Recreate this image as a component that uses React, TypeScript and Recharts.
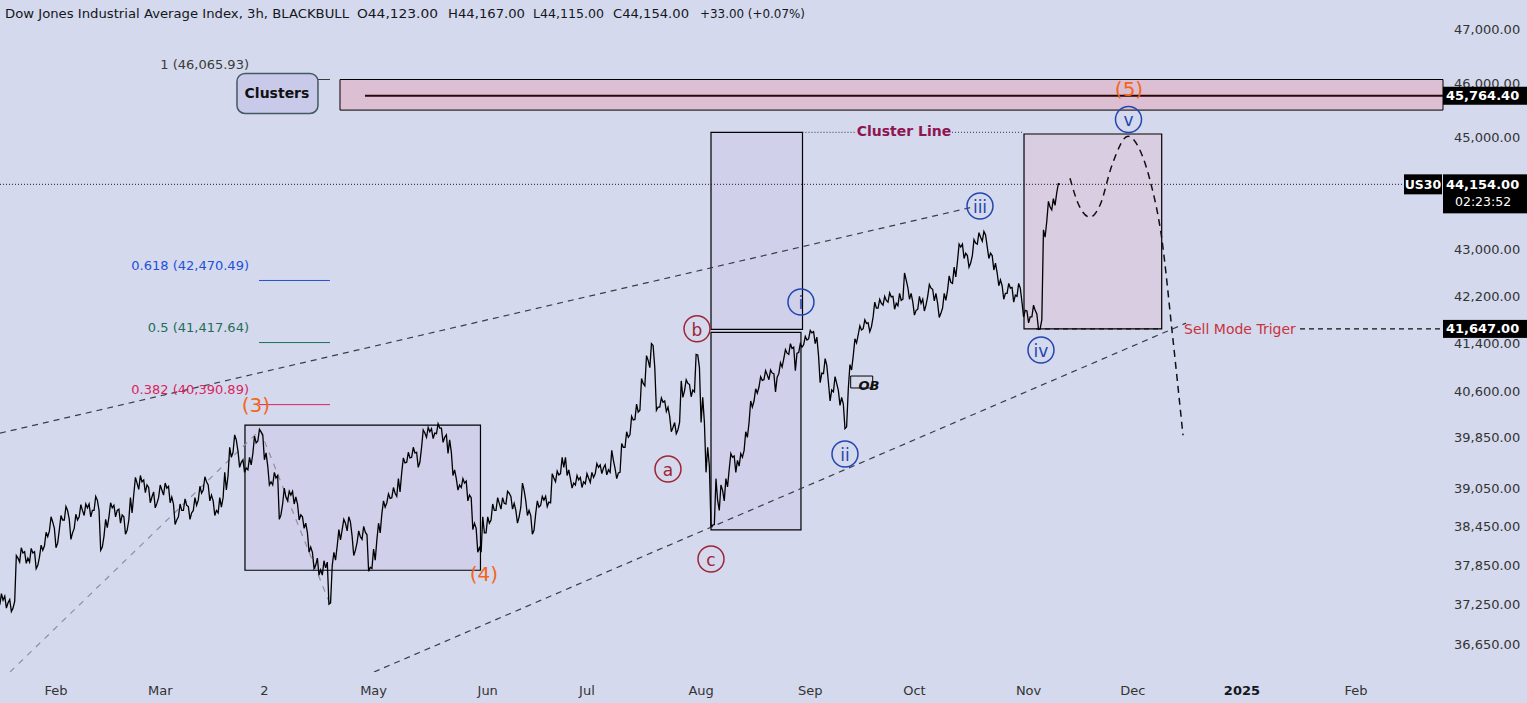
import React from 'react';
import { ComposedChart, Line, XAxis, YAxis, ReferenceArea, ReferenceDot } from 'recharts';

const W = 1527;
const H = 703;
const FONT = '"DejaVu Sans", "Noto Sans", sans-serif';
const BG = '#d5d9ed';

// ---- data -------------------------------------------------------------
// trading-day index of the first session
const START_T = 12;
// one close per trading day
const closes = [
  37320, 37280, 37200, 37960, 38040, 37960, 38040, 37850, 38080, 38290,
  38520, 38190, 38550, 38700, 38350, 38550, 38700, 38740, 38700, 38860,
  38130, 38430, 38740, 38700, 38630, 38390, 38660, 39130, 39150, 39100,
  38910, 38810, 39020, 39050, 38910, 38550, 38700, 38780, 38660, 38780,
  38970, 39150, 38940, 38700, 38750, 39020, 39540, 39820, 39460, 39370,
  39420, 39770, 39950, 39610, 39150, 39210, 38630, 38910, 38940, 38910,
  38630, 38500, 38130, 37850, 37780, 37810, 37280, 37930, 38240, 38500,
  38520, 38080, 38290, 38360, 37820, 37930, 38350, 38750, 38890, 38970,
  38990, 39450, 39530, 39610, 39460, 39930, 39950, 39930, 40010, 39860,
  39820, 39340, 39100, 39130, 38940, 38500, 38120, 38350, 38500, 38700,
  38810, 38810, 38970, 38810, 38600, 39020, 38700, 38390, 38750, 38860,
  38830, 39210, 39260, 39380, 39340, 39130, 39180, 39150, 39210, 39220,
  39380, 39370, 39340, 39490, 39290, 39700, 39860, 40140, 40270, 40740,
  41120, 41370, 40350, 40430, 40350, 40020, 39980, 40510, 40740, 40630,
  41210, 40510, 39700, 38470, 38860, 39020, 39070, 39540, 39490, 39540,
  39860, 40350, 40580, 40790, 40880, 40910, 40840, 41010, 41240, 41320,
  41240, 41340, 41460, 41580, 41510, 40910, 41040, 40630, 40740, 40510,
  40030, 40960, 41410, 41630, 41740, 41680, 42000, 42080, 42130, 42190,
  42080, 42130, 42480, 42250, 41960, 42080, 42050, 42340, 42250, 41910,
  42130, 42440, 42530, 43050, 42940, 42770, 43120, 43220, 43260, 42940,
  42770, 42480, 42250, 42340, 42220, 42340, 41960, 41850, 41960, 41650,
  43220, 43750, 43780, 44154,
];
// daily lows and highs
const lows = [
  37250, 37200, 37150, 37300, 37900, 37880, 37900, 37800, 37980, 38150,
  38380, 38120, 38400, 38550, 38250, 38420, 38600, 38620, 38600, 38700,
  38080, 38300, 38600, 38600, 38500, 38330, 38550, 38950, 39030, 38980,
  38820, 38740, 38900, 38940, 38820, 38480, 38600, 38700, 38560, 38700,
  38860, 39020, 38850, 38620, 38660, 38900, 39250, 39620, 39380, 39300,
  39340, 39600, 39800, 39500, 39100, 39100, 38560, 38800, 38850, 38800,
  38550, 38420, 38050, 37800, 37700, 37700, 37260, 37850, 38150, 38400,
  38380, 38000, 38200, 38250, 37760, 37800, 38250, 38650, 38820, 38900,
  38920, 39300, 39460, 39540, 39380, 39700, 39860, 39840, 39920, 39780,
  39600, 39250, 39020, 39060, 38850, 38400, 38050, 38050, 38350, 38550,
  38700, 38720, 38800, 38720, 38500, 38750, 38620, 38330, 38650, 38780,
  38760, 38820, 39150, 39280, 39250, 39050, 39100, 39060, 39120, 39140,
  39280, 39280, 39260, 39300, 39200, 39300, 39700, 39900, 40150, 40300,
  40700, 41000, 40300, 40350, 40280, 39950, 39920, 40100, 40620, 40520,
  40600, 40100, 39300, 38450, 38480, 38700, 38850, 39350, 39300, 39400,
  39650, 40100, 40450, 40680, 40800, 40800, 40600, 40900, 41150, 41220,
  40950, 41250, 41380, 41480, 41400, 40750, 40900, 40450, 40600, 40380,
  40000, 40650, 41200, 41550, 41650, 41600, 41850, 42000, 42050, 42100,
  41980, 42040, 42150, 42150, 41880, 41980, 41950, 42200, 42120, 41840,
  42000, 42300, 42420, 42800, 42850, 42700, 42900, 43100, 43150, 42850,
  42650, 42380, 42150, 42250, 42100, 42200, 41850, 41750, 41850, 41640,
  41800, 43500, 43700, 44000,
];
const highs = [
  37420, 37380, 37330, 38000, 38120, 38060, 38110, 38060, 38160, 38360,
  38600, 38420, 38620, 38760, 38560, 38640, 38790, 38800, 38800, 38920,
  38700, 38560, 38820, 38780, 38720, 38600, 38900, 39220, 39250, 39180,
  39060, 38990, 39100, 39130, 39080, 38800, 38800, 38880, 38760, 38900,
  39080, 39230, 39100, 38850, 38900, 39300, 39700, 39900, 39640, 39500,
  39540, 39880, 39990, 39900, 39400, 39300, 39250, 39050, 39000, 39000,
  38800, 38600, 38350, 38050, 37960, 37920, 37900, 38050, 38400, 38560,
  38600, 38300, 38380, 38450, 38320, 38100, 38500, 38850, 38960, 39060,
  39200, 39530, 39620, 39700, 39620, 39980, 40020, 40000, 40080, 40010,
  39900, 39620, 39200, 39200, 39160, 38900, 38420, 38600, 38600, 38800,
  38900, 38900, 39000, 38920, 38700, 39130, 38850, 38620, 38850, 38920,
  38920, 39280, 39320, 39540, 39540, 39200, 39250, 39220, 39280, 39300,
  39440, 39420, 39420, 39650, 39360, 39760, 39950, 40200, 40400, 40820,
  41200, 41400, 41000, 40500, 40450, 40200, 40100, 40780, 40800, 40720,
  41220, 41000, 40100, 39400, 39200, 39100, 39200, 39600, 39560, 39600,
  39950, 40450, 40650, 40850, 40950, 40960, 40900, 41080, 41300, 41400,
  41340, 41400, 41520, 41620, 41600, 41200, 41150, 40750, 40850, 40620,
  40400, 41050, 41480, 41700, 41800, 41750, 42100, 42150, 42200, 42260,
  42200, 42250, 42600, 42350, 42100, 42200, 42150, 42400, 42320, 42080,
  42250, 42550, 42700, 43100, 43100, 42900, 43180, 43300, 43320, 43050,
  42900, 42600, 42380, 42420, 42350, 42420, 42100, 41950, 42050, 41900,
  43350, 43850, 43900, 44167,
];

// projected path (t, price)
const projT = [227.35, 228.96, 231.38, 233.39, 235.81, 239.04, 241.45, 243.47, 245.89, 247.9, 250.12];
const projP = [44263, 43818, 43572, 43783, 44497, 45022, 44767, 44228, 43168, 41626, 39896];

const monthTicks = [23, 44, 65, 87, 110, 130, 153, 175, 196, 219, 240, 262, 285];
const monthLabels = ['Feb', 'Mar', '2', 'May', 'Jun', 'Jul', 'Aug', 'Sep', 'Oct', 'Nov', 'Dec', '2025', 'Feb'];

const priceTicks = [36650, 37250, 37850, 38450, 39050, 39850, 40600, 41400, 42200, 43000, 45000, 46000, 47000];
const lastPrice = 44154;
const clusterPrice = 45764.4;
const triggerPrice = 41647;
const fibLevels = [
  { ratio: '1', price: 46065.93, color: '#3a3a3a' },
  { ratio: '0.618', price: 42470.49, color: '#2450d8' },
  { ratio: '0.5', price: 41417.64, color: '#1c6f58' },
  { ratio: '0.382', price: 40390.89, color: '#d8245e' },
];
const fibTextPrice = [46337, 42737, 41679, 40647];

const T_MIN = 11.71;
const T_MAX = 302.52;
const P_MIN = 36252;
const P_MAX = 47571;

// each session drawn as its low/high swing in the order the day moved, then its close
const priceData: { t: number; p: number }[] = [];
closes.forEach((c, i) => {
  const up = i === 0 || c >= closes[i - 1];
  const t = START_T + i;
  priceData.push({ t: t - 0.33, p: up ? lows[i] : highs[i] });
  priceData.push({ t: t, p: up ? highs[i] : lows[i] });
  priceData.push({ t: t + 0.33, p: c });
});
const projData = projT.map((t, i) => ({ t, p: projP[i] }));
const seg = (t1: number, p1: number, t2: number, p2: number) => [{ t: t1, p: p1 }, { t: t2, p: p2 }];

const upperChannel = seg(T_MIN, 39928, 207.6, 43748);
const lowerChannel = seg(87.08, P_MIN, 250.72, 41744);
const fibTrend = [{ t: 13.73, p: P_MIN }, { t: 64.11, p: 39977 }, { t: 78.21, p: 37262 }];
const lastLine = seg(T_MIN, lastPrice, 294.66, lastPrice);
const clusterLineA = seg(173.44, 45093, 184.02, 45093);
const clusterLineB = seg(203.57, 45093, 218.08, 45093);
const trigA = seg(220.5, triggerPrice, 245.83, triggerPrice);
const trigB = seg(273.7, triggerPrice, T_MAX, triggerPrice);

const waves = [
  { t: 146.33, p: 39353, text: 'a', color: '#9e2536' },
  { t: 152.18, p: 41650, text: 'b', color: '#9e2536' },
  { t: 155.0, p: 37947, text: 'c', color: '#9e2536' },
  { t: 173.13, p: 42103, text: 'i', color: '#2346b0' },
  { t: 182.0, p: 39593, text: 'ii', color: '#2346b0' },
  { t: 209.21, p: 43769, text: 'iii', color: '#2346b0' },
  { t: 221.5, p: 41293, text: 'iv', color: '#2346b0' },
  { t: 239.14, p: 45327, text: 'v', color: '#2346b0' },
];
const degreeLabels = [
  { t: 63.3, p: 40383, text: '(3)' },
  { t: 109.25, p: 37718, text: '(4)' },
  { t: 239.24, p: 45890, text: '(5)' },
];

// ---- ticks ------------------------------------------------------------
const fmt = (v: number) => v.toLocaleString('en-US', { minimumFractionDigits: 2, maximumFractionDigits: 2 });

const YTick = (props: any) => {
  const { x, y, payload } = props;
  const v = payload.value;
  const ax = x - 11;
  if (v === clusterPrice || v === triggerPrice) {
    return (
      <g>
        <rect x={ax} y={y - 9} width={84} height={18} fill="#000" />
        <text x={ax + 3} y={y} dominantBaseline="central" fill="#fff" fontSize={13} fontWeight="bold" fontFamily={FONT}>
          {fmt(v)}
        </text>
      </g>
    );
  }
  if (v === lastPrice) {
    return (
      <g>
        <rect x={ax - 39} y={y - 10} width={38} height={20} fill="#000" />
        <text x={ax - 20} y={y} textAnchor="middle" dominantBaseline="central" fill="#fff" fontSize={12.5} fontWeight="bold" fontFamily={FONT}>US30</text>
        <rect x={ax} y={y - 10} width={84} height={39} fill="#000" />
        <text x={ax + 3} y={y} dominantBaseline="central" fill="#fff" fontSize={13} fontWeight="bold" fontFamily={FONT}>{fmt(v)}</text>
        <text x={ax + 12} y={y + 17} dominantBaseline="central" fill="#fff" fontSize={12.5} fontFamily={FONT}>02:23:52</text>
      </g>
    );
  }
  return (
    <text x={x} y={y} dominantBaseline="central" fill="#333" fontSize={13} fontFamily={FONT}>
      {fmt(v)}
    </text>
  );
};

const XTick = (props: any) => {
  const { x, y, payload } = props;
  const idx = monthTicks.indexOf(payload.value);
  const label = monthLabels[idx];
  const bold = label === '2025';
  return (
    <text x={x} y={y + 18} textAnchor="middle" dominantBaseline="central" fill={bold ? '#131722' : '#333'} fontSize={13} fontWeight={bold ? 'bold' : 'normal'} fontFamily={FONT}>
      {label}
    </text>
  );
};

const TextShape = (text: string, color: string, size: number, anchor: string, weight = 'normal', style = 'normal') => (p: any) => (
  <text x={p.cx} y={p.cy} textAnchor={anchor} dominantBaseline="central" fill={color} fontSize={size} fontWeight={weight} fontStyle={style} fontFamily={FONT}>
    {text}
  </text>
);

const CircleShape = (text: string, color: string) => (p: any) => (
  <g>
    <circle cx={p.cx} cy={p.cy} r={13} fill="none" stroke={color} strokeWidth={1.5} />
    <text x={p.cx} y={p.cy + 1} textAnchor="middle" dominantBaseline="central" fill={color} fontSize={17} fontFamily={FONT}>
      {text}
    </text>
  </g>
);

const ClustersShape = (p: any) => (
  <g>
    <rect x={p.cx - 40} y={p.cy - 20} width={81} height={40} rx={8} fill="#c9caea" stroke="#425a62" strokeWidth={1.5} />
    <text x={p.cx} y={p.cy} textAnchor="middle" dominantBaseline="central" fill="#111" fontSize={14} fontWeight="bold" fontFamily={FONT}>Clusters</text>
  </g>
);

const headerParts = [
  { text: 'Dow Jones Industrial Average Index, 3h, BLACKBULL', x: 5, w: 344 },
  { text: 'O44,123.00', x: 357, w: 81 },
  { text: 'H44,167.00', x: 448, w: 77 },
  { text: 'L44,115.00', x: 533, w: 71 },
  { text: 'C44,154.00', x: 613, w: 76 },
  { text: '+33.00 (+0.07%)', x: 700, w: 105 },
];

export default function App() {
  const lineProps = { dot: false, activeDot: false, isAnimationActive: false, dataKey: 'p', type: 'linear' as const };
  return (
    <div style={{ position: 'absolute', left: 0, top: 0, width: W, height: H, background: BG, overflow: 'hidden' }}>
      <ComposedChart width={W} height={H} margin={{ top: 0, right: 0, bottom: 0, left: 0 }}>
        <XAxis
          dataKey="t"
          type="number"
          domain={[T_MIN, T_MAX]}
          allowDataOverflow
          ticks={monthTicks}
          interval={0}
          height={31}
          axisLine={false}
          tickLine={false}
          tickSize={0}
          tickMargin={0}
          tick={<XTick />}
        />
        <YAxis
          orientation="right"
          type="number"
          scale="log"
          domain={[P_MIN, P_MAX]}
          allowDataOverflow
          ticks={[...priceTicks, lastPrice, clusterPrice, triggerPrice]}
          interval={0}
          width={84}
          axisLine={false}
          tickLine={false}
          tickSize={0}
          tickMargin={11}
          tick={<YTick />}
        />

        {/* boxes */}
        <ReferenceArea x1={80.23} x2={T_MAX} y1={45500} y2={46065.93} fill="#dcbfd2" fillOpacity={1} stroke="#000" strokeWidth={1} ifOverflow="visible" />
        <ReferenceArea x1={61.08} x2={108.54} y1={37775} y2={40058} fill="rgb(200,190,232)" fillOpacity={0.3} stroke="#000" strokeWidth={1.2} ifOverflow="visible" />
        <ReferenceArea x1={155.0} x2={173.44} y1={41640} y2={45093} fill="rgb(200,190,232)" fillOpacity={0.3} stroke="#000" strokeWidth={1.2} ifOverflow="visible" />
        <ReferenceArea x1={155.0} x2={173.13} y1={38395} y2={41590} fill="rgb(200,190,232)" fillOpacity={0.3} stroke="#000" strokeWidth={1.2} ifOverflow="visible" />
        <ReferenceArea x1={218.08} x2={245.83} y1={triggerPrice} y2={45062} fill="rgb(222,190,212)" fillOpacity={0.45} stroke="#000" strokeWidth={1.2} ifOverflow="visible" />
        <ReferenceArea x1={183.15} x2={187.59} y1={40664} y2={40861} fill="none" stroke="#000" strokeWidth={1} ifOverflow="visible" />

        {/* level lines */}
        <Line {...lineProps} data={seg(85.27, clusterPrice, T_MAX, clusterPrice)} stroke="#2a0608" strokeWidth={2} />
        {fibLevels.map((f, i) => (
          <Line key={'fib' + i} {...lineProps} data={seg(63.91, f.price, 78.21, f.price)} stroke={f.color} strokeWidth={1} />
        ))}
        <Line {...lineProps} data={lastLine} stroke="#222" strokeWidth={1} strokeDasharray="1 2" />
        <Line {...lineProps} data={clusterLineA} stroke="#333" strokeWidth={1} strokeDasharray="1 2" />
        <Line {...lineProps} data={clusterLineB} stroke="#333" strokeWidth={1} strokeDasharray="1 2" />
        <Line {...lineProps} data={trigA} stroke="#111" strokeWidth={1.3} strokeDasharray="5 4" />
        <Line {...lineProps} data={trigB} stroke="#111" strokeWidth={1.3} strokeDasharray="5 4" />

        {/* trend lines */}
        <Line {...lineProps} data={upperChannel} stroke="#3c3c44" strokeWidth={1.2} strokeDasharray="6 5" />
        <Line {...lineProps} data={lowerChannel} stroke="#3c3c44" strokeWidth={1.2} strokeDasharray="6 5" />
        <Line {...lineProps} data={fibTrend} stroke="#8d909e" strokeWidth={1.2} strokeDasharray="6 6" />

        {/* price */}
        <Line {...lineProps} data={priceData} stroke="#000" strokeWidth={1.3} strokeLinejoin="miter" />
        <Line {...lineProps} type="monotone" data={projData} stroke="#111" strokeWidth={1.5} strokeDasharray="7 5" />

        {/* labels */}
        {fibLevels.map((f, i) => (
          <ReferenceDot key={'fl' + i} x={61.89} y={fibTextPrice[i]} r={1} ifOverflow="visible"
            shape={TextShape(`${f.ratio} (${fmt(f.price)})`, f.color, 13, 'end')} />
        ))}
        <ReferenceDot x={67.53} y={45807} r={1} ifOverflow="visible" shape={ClustersShape} />
        {degreeLabels.map((d, i) => (
          <ReferenceDot key={'dg' + i} x={d.t} y={d.p} r={1} ifOverflow="visible" shape={TextShape(d.text, '#f2661a', 20, 'middle')} />
        ))}
        {waves.map((w, i) => (
          <ReferenceDot key={'wv' + i} x={w.t} y={w.p} r={13} ifOverflow="visible" shape={CircleShape(w.text, w.color)} />
        ))}
        <ReferenceDot x={193.89} y={45117} r={1} ifOverflow="visible" shape={TextShape('Cluster Line', '#8e1550', 14, 'middle', 'bold')} />
        <ReferenceDot x={261.6} y={triggerPrice} r={1} ifOverflow="visible" shape={TextShape('Sell Mode Triger', '#c7343e', 14, 'middle')} />
        <ReferenceDot x={186.84} y={40697} r={1} ifOverflow="visible" shape={TextShape('OB', '#111', 13, 'middle', 'bold', 'italic')} />
      </ComposedChart>
      <svg width={W} height={30} style={{ position: 'absolute', left: 0, top: 0, pointerEvents: 'none' }}>
        {headerParts.map((h, i) => (
          <text key={i} x={h.x} y={13} dominantBaseline="central" fill="#131722" fontSize={13} fontFamily={FONT} textLength={h.w} lengthAdjust="spacingAndGlyphs">
            {h.text}
          </text>
        ))}
      </svg>
    </div>
  );
}
